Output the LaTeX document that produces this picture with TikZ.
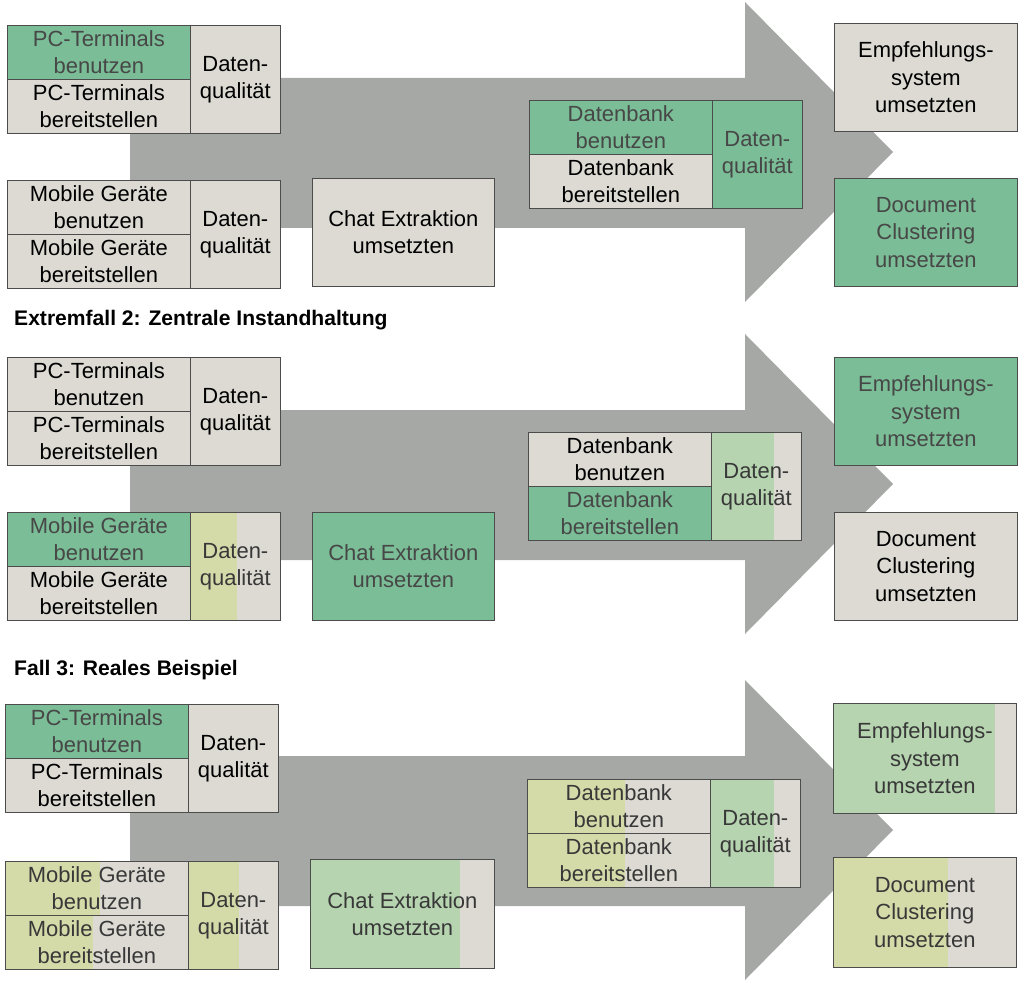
\documentclass[tikz,border=0pt]{standalone}
\usepackage{fontspec}
\setmainfont{Liberation Sans}
\definecolor{boxgray}{HTML}{DCDAD3}
\definecolor{arrowgray}{HTML}{A6A8A6}
\definecolor{strong}{HTML}{7ABD96}
\definecolor{pale}{HTML}{B6D4AF}
\definecolor{ochre}{HTML}{D4DBA9}
\tikzset{
  box/.style={draw=black!70, fill=boxgray, inner sep=0pt, anchor=north west,
    align=center, font=\fontsize{12.5}{15.5}\selectfont},
  hot/.style={fill=strong, text=black!72},
  part/.style 2 args={text=black!78, path picture={\fill[#1]
    (path picture bounding box.north west) rectangle
    ([xshift=#2*0.02cm]path picture bounding box.south west);}},
  flow/.style={fill=arrowgray, draw=none},
  title/.style={anchor=west, font=\bfseries\fontsize{12}{14}\selectfont}
}
% group of two stacked tasks plus data quality box
\newcommand{\grp}[8]{%
  \node[box, minimum width=183*0.02cm, minimum height=54*0.02cm, #6] (#1t) at (#2,#3) {#4};
  \node[box, minimum width=183*0.02cm, minimum height=54*0.02cm, #7] (#1b) at (#2,#3+54) {#5};
  \node[box, minimum width=90*0.02cm, minimum height=108*0.02cm, #8] (#1q) at (#2+183,#3) {Daten-\\qualität};
}
\newcommand{\flowarrow}[1]{%
  \fill[flow] (130,#1+53) -- (745,#1+53) -- (745,#1-23) -- (893,#1+127)
    -- (745,#1+277) -- (745,#1+203) -- (130,#1+203) -- cycle;
}
\begin{document}
\begin{tikzpicture}[x=0.02cm, y=-0.02cm]
\useasboundingbox (0,0) rectangle (1024,986);

% Fall 1
\flowarrow{25}
\grp{pcA}{7}{25}{PC-Terminals\\benutzen}{PC-Terminals\\bereitstellen}{hot}{}{}
\grp{moA}{7}{180}{Mobile Geräte\\benutzen}{Mobile Geräte\\bereitstellen}{}{}{}
\grp{dbA}{529}{100}{Datenbank\\benutzen}{Datenbank\\bereitstellen}{hot}{}{hot}
\node[box, minimum width=182*0.02cm, minimum height=108*0.02cm] (chA) at (312,178) {Chat Extraktion\\umsetzten};
\node[box, minimum width=183*0.02cm, minimum height=108*0.02cm] (emA) at (834,23) {Empfehlungs-\\system\\umsetzten};
\node[box, minimum width=183*0.02cm, minimum height=108*0.02cm, hot] (doA) at (834,178) {Document\\Clustering\\umsetzten};

% Extremfall 2
\node[title] (ttlB) at (8,320) {Extremfall 2: Zentrale Instandhaltung};
\flowarrow{357}
\grp{pcB}{7}{357}{PC-Terminals\\benutzen}{PC-Terminals\\bereitstellen}{}{}{}
\grp{moB}{7}{512}{Mobile Geräte\\benutzen}{Mobile Geräte\\bereitstellen}{hot}{}{part={ochre}{47}}
\grp{dbB}{528}{432}{Datenbank\\benutzen}{Datenbank\\bereitstellen}{}{hot}{part={pale}{63}}
\node[box, minimum width=182*0.02cm, minimum height=108*0.02cm, hot] (chB) at (312,512) {Chat Extraktion\\umsetzten};
\node[box, minimum width=183*0.02cm, minimum height=108*0.02cm, hot] (emB) at (834,357) {Empfehlungs-\\system\\umsetzten};
\node[box, minimum width=183*0.02cm, minimum height=108*0.02cm] (doB) at (834,512) {Document\\Clustering\\umsetzten};

% Fall 3
\node[title] (ttlC) at (8,670) {Fall 3: Reales Beispiel};
\flowarrow{703}
\grp{pcC}{5}{704}{PC-Terminals\\benutzen}{PC-Terminals\\bereitstellen}{hot}{}{}
\grp{moC}{5}{861}{Mobile Geräte\\benutzen}{Mobile Geräte\\bereitstellen}{part={ochre}{95}}{part={ochre}{88}}{part={ochre}{51}}
\node[box, minimum width=184*0.02cm, minimum height=109*0.02cm, part={pale}{150}] (chC) at (310,859) {Chat Extraktion\\umsetzten};
\grp{dbC}{527}{779}{Datenbank\\benutzen}{Datenbank\\bereitstellen}{part={ochre}{98}}{part={ochre}{98}}{part={pale}{64}}
\node[box, minimum width=183*0.02cm, minimum height=110*0.02cm, part={pale}{162}] (emC) at (833,703) {Empfehlungs-\\system\\umsetzten};
\node[box, minimum width=183*0.02cm, minimum height=110*0.02cm, part={ochre}{115}] (doC) at (833,857) {Document\\Clustering\\umsetzten};
\end{tikzpicture}
\end{document}
